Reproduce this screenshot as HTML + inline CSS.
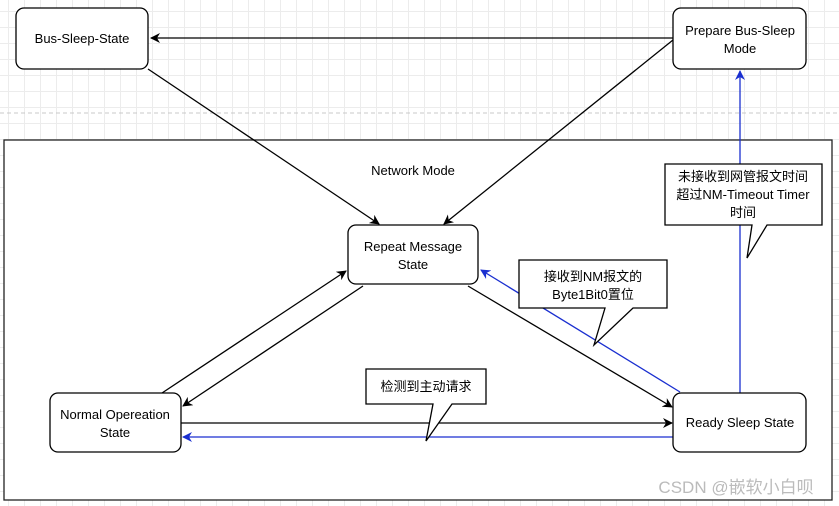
<!DOCTYPE html>
<html><head><meta charset="utf-8"><style>
body{margin:0;width:839px;height:506px;overflow:hidden;background:#fff;
background-image:linear-gradient(#ececec 1px,transparent 1px),linear-gradient(90deg,#ececec 1px,transparent 1px);background-size:16px 16px;background-position:-8px -5px}
svg{position:absolute;left:0;top:0}
text{font-family:"Liberation Sans","Noto Sans CJK SC",sans-serif;font-size:13px;fill:#000;text-anchor:middle}
</style></head><body>
<svg width="839" height="506" viewBox="0 0 839 506">
<defs>
<marker id="a" markerWidth="10" markerHeight="10" refX="9" refY="5" orient="auto" markerUnits="userSpaceOnUse"><path d="M0,0L10,5L0,10L3,5z" fill="#000"/></marker>
<marker id="b" markerWidth="10" markerHeight="10" refX="9" refY="5" orient="auto" markerUnits="userSpaceOnUse"><path d="M0,0L10,5L0,10L3,5z" fill="#1a2fd0"/></marker>
</defs>
<line x1="0" y1="113" x2="839" y2="113" stroke="#c8c8c8" stroke-dasharray="4,3"/>
<rect x="4" y="140" width="828" height="360" fill="#fff" stroke="#222" stroke-width="1.3"/>
<text x="413" y="175">Network Mode</text>
<g stroke="#000" stroke-width="1.3" fill="none">
<line x1="673" y1="38" x2="151" y2="38" marker-end="url(#a)"/>
<line x1="148" y1="69" x2="379" y2="224" marker-end="url(#a)"/>
<line x1="673" y1="40" x2="444" y2="224" marker-end="url(#a)"/>
<line x1="162" y1="393" x2="346" y2="271" marker-end="url(#a)"/>
<line x1="363" y1="286" x2="183" y2="406" marker-end="url(#a)"/>
<line x1="468" y1="286" x2="672" y2="407" marker-end="url(#a)"/>
<line x1="181" y1="423" x2="672" y2="423" marker-end="url(#a)"/>
</g>
<g stroke="#1a2fd0" stroke-width="1.3" fill="none">
<line x1="680" y1="392" x2="481" y2="270" marker-end="url(#b)"/>
<line x1="673" y1="437" x2="183" y2="437" marker-end="url(#b)"/>
<line x1="740" y1="393" x2="740" y2="71" marker-end="url(#b)"/>
</g>
<g fill="#fff" stroke="#000" stroke-width="1.3">
<rect x="16" y="8" width="132" height="61" rx="8"/>
<rect x="673" y="8" width="133" height="61" rx="8"/>
<rect x="348" y="225" width="130" height="59" rx="8"/>
<rect x="50" y="393" width="131" height="59" rx="8"/>
<rect x="673" y="393" width="133" height="59" rx="8"/>
<path d="M665,164H822V225H767L747,258L752,225H665Z"/>
<path d="M519,260H667V308H633L594,345L605,308H519Z"/>
<path d="M366,369H486V404H452L426,441L433,404H366Z"/>
</g>
<text x="82" y="43">Bus-Sleep-State</text>
<text x="740" y="35">Prepare Bus-Sleep</text><text x="740" y="53">Mode</text>
<text x="413" y="251">Repeat Message</text><text x="413" y="269">State</text>
<text x="115" y="419">Normal Opereation</text><text x="115" y="437">State</text>
<text x="740" y="427">Ready Sleep State</text>
<text x="743" y="181">未接收到网管报文时间</text><text x="743" y="199">超过NM-Timeout Timer</text><text x="743" y="217">时间</text>
<text x="593" y="281">接收到NM报文的</text><text x="593" y="299">Byte1Bit0置位</text>
<text x="426" y="391">检测到主动请求</text>
<text x="736" y="493" style="font-size:17px;fill:#bbb">CSDN @嵌软小白呗</text>
</svg>
</body></html>
